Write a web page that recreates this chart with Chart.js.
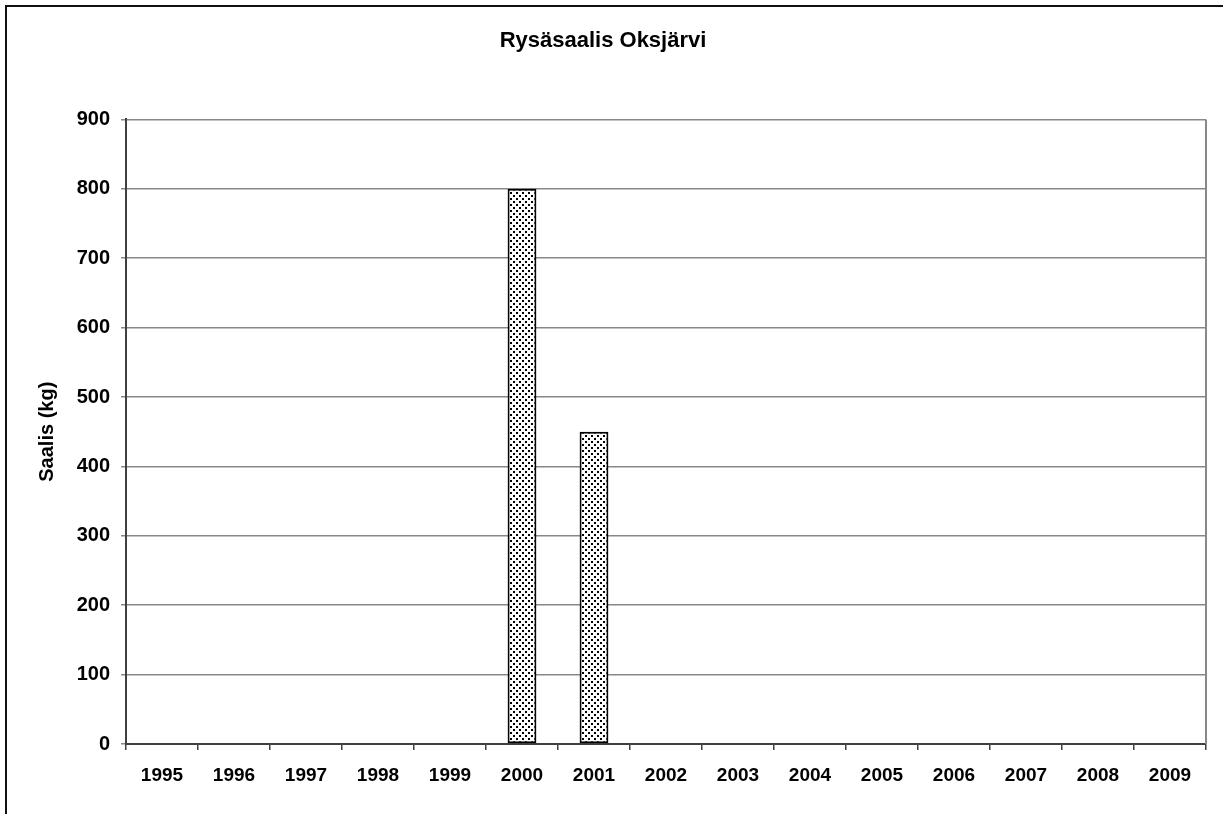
<!DOCTYPE html>
<html>
<head>
<meta charset="utf-8">
<script src="https://cdn.jsdelivr.net/npm/chart.js@4.4.1/dist/chart.umd.min.js"></script>
<style>
  html, body { margin: 0; padding: 0; background: #fff; }
  #wrap { position: relative; width: 1223px; height: 814px; overflow: hidden; }
  #frame { position: absolute; left: 5px; top: 5px; width: 1240px; height: 830px;
           border-left: 2px solid #111; border-top: 2px solid #111; box-sizing: border-box; }
  canvas { position: absolute; left: 0; top: 0; }
</style>
</head>
<body>
<div id="wrap">
  <div id="frame"></div>
  <canvas id="c" width="1223" height="814"></canvas>
</div>
<script>
const chartTitle = "Rysäsaalis Oksjärvi";
const yAxisTitle = "Saalis (kg)";
const years = ["1995","1996","1997","1998","1999","2000","2001","2002","2003","2004","2005","2006","2007","2008","2009"];
const catch_kg = [null, null, null, null, null, 800, 450, null, null, null, null, null, null, null, null];
const yMin = 0, yMax = 900, yStep = 100;

function makePattern() {
  const p = document.createElement('canvas');
  p.width = 6; p.height = 6;
  const g = p.getContext('2d');
  g.fillStyle = '#fff'; g.fillRect(0, 0, 6, 6);
  g.fillStyle = '#000';
  g.fillRect(0, 0, 2, 2);
  g.fillRect(3, 3, 2, 2);
  return document.getElementById('c').getContext('2d').createPattern(p, 'repeat');
}

const FONT = "'Liberation Sans', Arial, sans-serif";

const plotBorder = {
  id: 'plotBorder',
  afterDatasetsDraw(chart) {
    const a = chart.chartArea, ctx = chart.ctx;
    ctx.save();
    ctx.strokeStyle = '#888';
    ctx.lineWidth = 2;
    ctx.beginPath();
    ctx.moveTo(a.right, a.top);
    ctx.lineTo(a.right, a.bottom);
    ctx.stroke();
    ctx.restore();
  }
};

new Chart(document.getElementById('c'), {
  type: 'bar',
  data: {
    labels: years,
    datasets: [{
      data: catch_kg,
      backgroundColor: makePattern(),
      borderColor: '#000',
      borderWidth: 2,
      borderSkipped: false,
      barPercentage: 0.5,
      categoryPercentage: 0.8
    }]
  },
  options: {
    responsive: false,
    animation: false,
    layout: { padding: { left: 0, right: 17, top: 0, bottom: 0 } },
    plugins: {
      legend: { display: false },
      tooltip: { enabled: false },
      title: {
        display: true,
        text: chartTitle,
        color: '#000',
        font: { family: FONT, size: 22, weight: 'bold' },
        padding: { top: 28, bottom: 65 }
      }
    },
    scales: {
      x: {
        grid: { display: true, drawOnChartArea: false, drawTicks: true, tickLength: 6, color: '#404040', lineWidth: 1.5 },
        border: { display: true, color: '#404040', width: 2 },
        ticks: { color: '#000', font: { family: FONT, size: 19, weight: 'bold' }, padding: 14, maxRotation: 0, autoSkip: false },
        afterFit(scale) { scale.height = 70; }
      },
      y: {
        min: yMin, max: yMax,
        grid: { color: '#888', lineWidth: 1.5, tickLength: 5, drawTicks: true },
        border: { display: true, color: '#404040', width: 2 },
        ticks: { stepSize: yStep, color: '#000', font: { family: FONT, size: 20, weight: 'bold' }, padding: 11 },
        title: {
          display: true, text: yAxisTitle, color: '#000',
          font: { family: FONT, size: 20, weight: 'bold' },
          padding: { top: 35, bottom: 0 }
        },
        afterFit(scale) { scale.width = 126; }
      }
    }
  },
  plugins: [plotBorder]
});
</script>
</body>
</html>
